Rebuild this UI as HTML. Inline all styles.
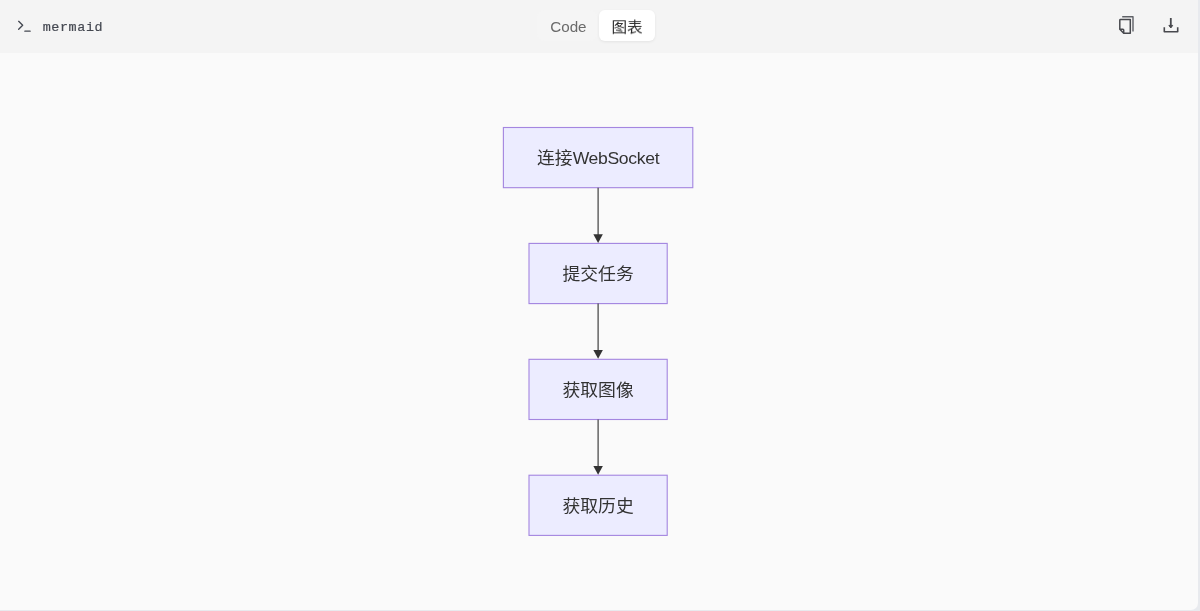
<!DOCTYPE html>
<html lang="zh">
<head>
<meta charset="utf-8">
<title>mermaid</title>
<style>
html,body{margin:0;padding:0;}
body{width:1200px;height:611px;overflow:hidden;background:#e8eaee;font-family:"Liberation Sans","Noto Sans CJK SC",sans-serif;position:relative;}
.card{position:absolute;left:-30px;top:-30px;width:1227.6px;height:639.7px;border-radius:0 0 7px 0;background:#fafafa;overflow:hidden;}
.hdr{position:absolute;left:0;top:0;width:100%;height:82.6px;background:#f4f4f4;}
.lang{position:absolute;left:42px;top:17px;font-family:"Liberation Mono","DejaVu Sans Mono",monospace;font-size:13.4px;letter-spacing:0.6px;line-height:20px;color:#444851;white-space:nowrap;will-change:transform;transform:translate(0.7px,0.8px);-webkit-text-stroke:0.2px #444851;}
.tab{position:absolute;top:10px;height:31px;line-height:31px;text-align:center;white-space:nowrap;}
.tab.code{left:537px;width:60px;font-size:15.2px;color:#6a6a6a;background:#f5f5f5;border-radius:7px;}
.tab span{display:block;will-change:transform;}
.tab.code span{transform:translate(1.4px,1px);}
.tab.on span{transform:translate(0,2.2px) scaleY(0.93);transform-origin:50% 30%;}
.tab.on{left:599px;width:56px;font-size:15.6px;background:#fff;border-radius:6px;color:#2a2a2a;box-shadow:0 1px 3px rgba(0,0,0,.07);}
svg.ic{position:absolute;overflow:visible;}
.dg{position:absolute;left:0;top:0;will-change:transform;}
.nd rect{fill:#ececff;stroke:#a486e0;stroke-width:1.115;}
.ed .ln{stroke:#333;stroke-width:1.115;fill:none;}
.ed .ah{fill:#333;stroke:none;}
.tx text{font-family:"Liberation Sans","Noto Sans CJK SC",sans-serif;font-size:17.83px;fill:#333;text-anchor:middle;}
.tx .lt{font-size:17.6px;letter-spacing:-0.35px;}
</style>
</head>
<body>
<div class="card"><div class="hdr"></div></div>
<svg class="ic" style="left:16px;top:17.67px" width="16" height="16" viewBox="0 0 24 24" fill="none" stroke="#444851" stroke-width="2" stroke-linecap="round" stroke-linejoin="round"><path d="m4 17 6-6-6-6"/><path d="M13.3 19.7H21.2"/></svg>
<div class="lang">mermaid</div>
<div class="tab code"><span>Code</span></div><div class="tab on"><span>图表</span></div>
<svg class="ic" style="left:1116px;top:14px" width="22" height="22" viewBox="0 0 22 22" fill="none" stroke="#48494e" stroke-width="1.5" stroke-linejoin="round"><path d="M6.2 2.8 H17 V17.5" stroke="#5e6066" stroke-width="1.4"/><path d="M4.5 5.6 H14.3 V19.2 H7.7 L3.8 15.3 V6.3 Q3.8 5.6 4.5 5.6 Z"/><path d="M3.8 15.3 H6.9 Q7.7 15.3 7.7 16.1 V19.2"/></svg>
<svg class="ic" style="left:1160px;top:14px" width="22" height="22" viewBox="0 0 22 22" fill="none" stroke="#48494e" stroke-width="1.5" stroke-linejoin="round"><path d="M10.8 4 V13" stroke-width="1.8"/><path d="M8.9 11.4 H12.7 L10.8 14 Z" fill="#48494e" stroke-width="1"/><path d="M4.3 13.2 V17.7 H17.7 V13.2" stroke-width="1.6"/></svg>
<svg class="dg" width="1200" height="611" viewBox="0 0 1200 611">
<g class="nd"><rect x="503.40" y="127.50" width="189.40" height="60.18"/><rect x="529.00" y="243.41" width="138.20" height="60.18"/><rect x="529.00" y="359.32" width="138.20" height="60.18"/><rect x="529.00" y="475.22" width="138.20" height="60.18"/></g>
<g class="ed"><path class="ln" d="M598.10 187.68V235.21"/><path class="ah" d="M593.35 234.21H602.85L598.10 242.91Z"/><path class="ln" d="M598.10 303.59V351.12"/><path class="ah" d="M593.35 350.12H602.85L598.10 358.82Z"/><path class="ln" d="M598.10 419.50V467.02"/><path class="ah" d="M593.35 466.02H602.85L598.10 474.72Z"/></g>
<g class="tx"><text transform="translate(598.10 163.89) scale(1 0.94)">连接<tspan class="lt">WebSocket</tspan></text><text transform="translate(598.10 279.80) scale(1 0.94)">提交任务</text><text transform="translate(598.10 395.71) scale(1 0.94)">获取图像</text><text transform="translate(598.10 511.62) scale(1 0.94)">获取历史</text></g>
</svg>
</body>
</html>
